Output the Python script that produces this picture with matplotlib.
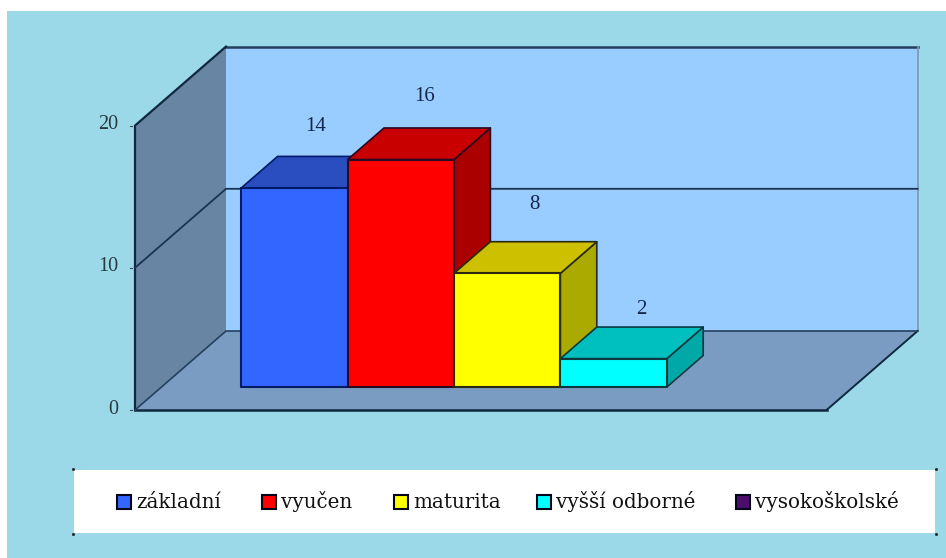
from matplotlib import pyplot as plt
from matplotlib.patches import Polygon, Rectangle

# data
categories = ['základní', 'vyučen', 'maturita', 'vyšší odborné', 'vysokoškolské']
values = [14, 16, 8, 2, 0]
y_ticks = [0, 10, 20]
front_colors = ['#3366FF', '#FF0000', '#FFFF00', '#00FFFF', '#4B0F6B']
top_colors = ['#2A4DBF', '#C80000', '#CCC000', '#00BFBF', '#3A0A55']
side_colors = ['#1F3A90', '#AA0000', '#AAAA00', '#00A8A8', '#2A0740']
edge_colors = ['#001A66', '#2A0A20', '#2A2A10', '#0A3A40', '#000000']
label_nudge = [(21, -62), (24, -63), (27, -69), (28, -49), (0, 0)]

# layout of the 3d box, in pixels
X0, Y0 = 135, 410
BAR_W = 106.4
UNIT = 14.22
DX, DY = 91, 79
BAR_FRONT, BAR_BACK = 0.29, 0.69
N_SLOTS = 6.5


def proj(u, v, d):
  return (X0 + u * BAR_W + d * DX, Y0 - v * UNIT - d * DY)


def face(ax, pts, color, edge='#1B3350', lw=1.2, z=1):
  ax.add_patch(Polygon(pts, closed=True, facecolor=color, edgecolor=edge, linewidth=lw, joinstyle='round', zorder=z))


plt.rcParams['font.family'] = ['Liberation Serif', 'DejaVu Serif']
fig = plt.figure(figsize=(9.46, 5.58), dpi=100, facecolor='white')
ax = fig.add_axes([0, 0, 1, 1])
ax.set_xlim(0, 946)
ax.set_ylim(558, 0)
ax.axis('off')

ax.add_patch(Rectangle((7, 11), 939, 547, facecolor='#9BD9E9', edgecolor='none', zorder=0))

vmax = y_ticks[-1]
# back wall
face(ax, [proj(0, 0, 1), proj(N_SLOTS, 0, 1), proj(N_SLOTS, vmax, 1), proj(0, vmax, 1)], '#99CCFF', edge='none', lw=0)
ax.plot(*zip(proj(0, vmax, 1), proj(N_SLOTS, vmax, 1)), color='#24405F', lw=1.8, zorder=2)
ax.plot(*zip(proj(N_SLOTS, 0, 1), proj(N_SLOTS, vmax, 1)), color='#7F98AE', lw=1.2, zorder=2)
# left wall
face(ax, [proj(0, 0, 0), proj(0, 0, 1), proj(0, vmax, 1), proj(0, vmax, 0)], '#6885A3', edge='none', lw=0)
ax.plot(*zip(proj(0, 0, 0), proj(0, vmax, 0), proj(0, vmax, 1)), color='#10283F', lw=1.6, zorder=2)
# floor
face(ax, [proj(0, 0, 0), proj(N_SLOTS, 0, 0), proj(N_SLOTS, 0, 1), proj(0, 0, 1)], '#7A9CC2', edge='none', lw=0)
ax.plot(*zip(proj(0, 0, 0), proj(N_SLOTS, 0, 0)), color='#10283F', lw=1.8, zorder=2)
ax.plot(*zip(proj(N_SLOTS, 0, 0), proj(N_SLOTS, 0, 1)), color='#10283F', lw=1.4, zorder=2)
ax.plot(*zip(proj(0, 0, 0), proj(0, 0, 1), proj(N_SLOTS, 0, 1)), color='#24405F', lw=1.2, zorder=2)
# grid lines and tick labels
for t in y_ticks:
  if 0 < t < vmax:
    ax.plot(*zip(proj(0, t, 0), proj(0, t, 1), proj(N_SLOTS, t, 1)), color='#1B3350', lw=1.3, zorder=2)
  x, y = proj(0, t, 0)
  ax.text(x - 17, y - 1, str(t), ha='right', va='center', fontsize=14.5, color='#2A3A40', zorder=5)
  ax.plot([x - 5, x - 3], [y, y], color='#3A5060', lw=0.8, zorder=5)

# bars
for i, v in enumerate(values):
  if v == 0:
    continue
  u0, u1 = 0.75 + i, 1.75 + i
  e = edge_colors[i]
  z = 3 + i * 0.1
  face(ax, [proj(u1, 0, BAR_FRONT), proj(u1, 0, BAR_BACK), proj(u1, v, BAR_BACK), proj(u1, v, BAR_FRONT)], side_colors[i], e, z=z)
  face(ax, [proj(u0, v, BAR_FRONT), proj(u1, v, BAR_FRONT), proj(u1, v, BAR_BACK), proj(u0, v, BAR_BACK)], top_colors[i], e, z=z)
  face(ax, [proj(u0, 0, BAR_FRONT), proj(u1, 0, BAR_FRONT), proj(u1, v, BAR_FRONT), proj(u0, v, BAR_FRONT)], front_colors[i], e, lw=1.5, z=z)
  lx, ly = proj((u0 + u1) / 2, v, BAR_FRONT)
  ax.text(lx + label_nudge[i][0], ly + label_nudge[i][1], str(v), ha='center', va='center', fontsize=15, color='#14264A', zorder=6)

# legend
ax.add_patch(Rectangle((74, 470), 861, 63, facecolor='white', edgecolor='none', zorder=1))
for cx, cy in [(73, 469), (936, 469), (73, 534), (936, 534)]:
  ax.plot([cx], [cy], marker='s', ms=1, color='#222222', zorder=2)
legend_x = [117, 262, 394, 537, 736]
for c, col, lx in zip(categories, front_colors, legend_x):
  ax.add_patch(Rectangle((lx, 495), 14, 14, facecolor=col, edgecolor='#05051A', linewidth=1.5, zorder=3))
  ax.text(lx + 19, 502, c, ha='left', va='center', fontsize=14.3, family=['DejaVu Serif'], color='#111111', zorder=3)

fig.savefig('out.png', dpi=100)
plt.close()
